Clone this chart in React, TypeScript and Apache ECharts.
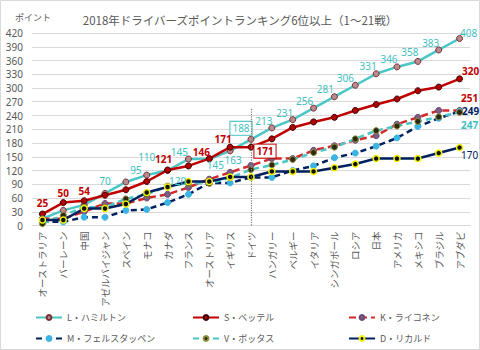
import React, { useEffect, useRef } from "react";
import * as echarts from "echarts";

const races = [
  "オーストラリア", "バーレーン", "中国", "アゼルバイジャン", "スペイン", "モナコ", "カナダ",
  "フランス", "オーストリア", "イギリス", "ドイツ", "ハンガリー", "ベルギー", "イタリア",
  "シンガポール", "ロシア", "日本", "アメリカ", "メキシコ", "ブラジル", "アブダビ",
];

const hamilton = [15, 33, 45, 70, 95, 110, 120, 145, 145, 163, 188, 213, 231, 256, 281, 306, 331, 346, 358, 383, 408];
const vettel = [25, 50, 54, 66, 78, 96, 121, 130, 146, 171, 171, 189, 214, 226, 236, 251, 264, 276, 294, 302, 320];
const raikkonen = [15, 15, 30, 48, 48, 60, 68, 83, 101, 116, 131, 146, 146, 164, 174, 186, 196, 221, 236, 251, 251];
const verstappen = [8, 8, 18, 18, 33, 35, 50, 68, 93, 93, 105, 105, 120, 130, 148, 158, 173, 191, 216, 234, 249];
const bottas = [4, 22, 40, 40, 58, 68, 86, 92, 92, 104, 122, 132, 144, 159, 171, 189, 207, 217, 227, 237, 247];
const ricciardo = [12, 12, 37, 37, 47, 72, 84, 96, 96, 106, 106, 118, 118, 118, 126, 134, 146, 146, 146, 158, 170];

const yTicks = { min: 0, max: 420, interval: 30 };

const names = ["L・ハミルトン", "S・ベッテル", "K・ライコネン", "M・フェルスタッペン", "V・ボッタス", "D・リカルド"];

// label placement (offset of label centre from the point), by index
type LabelCfg = { [i: number]: { o: [number, number]; box?: boolean } };
const hamLabels: LabelCfg = {
  3: { o: [0, -12] }, 4: { o: [10, -12] }, 5: { o: [0, -18] }, 6: { o: [10, 10] },
  7: { o: [-9, -7] }, 8: { o: [6, 6] }, 9: { o: [3, 9] }, 10: { o: [-10, -11], box: true },
  11: { o: [-8, -7] }, 12: { o: [-8, -7] }, 13: { o: [-9, -7] }, 14: { o: [-9, -8] },
  15: { o: [-10, -7] }, 16: { o: [-8, -8] }, 17: { o: [-8, -8] }, 18: { o: [-8, -9] },
  19: { o: [-8, -7] }, 20: { o: [9, -6] },
};
const vetLabels: LabelCfg = {
  0: { o: [0, -11] }, 1: { o: [0, -10] }, 2: { o: [0, -10] }, 6: { o: [-4, -11] },
  8: { o: [-8, -7] }, 9: { o: [-7, -8] }, 10: { o: [14, 4], box: true }, 20: { o: [11, -8] },
};
const raiLabels: LabelCfg = { 20: { o: [10, -12.5] } };
const verLabels: LabelCfg = { 20: { o: [11, 0] } };
const botLabels: LabelCfg = { 20: { o: [10, 12.5] } };
const ricLabels: LabelCfg = { 20: { o: [10, 7] } };

const FONT = "'Noto Sans CJK JP', 'Noto Sans', sans-serif";

function build(values: number[], cfg: LabelCfg, color: string, bold: boolean) {
  return values.map((v, i) => {
    const c = cfg[i];
    if (!c) return v;
    return {
      value: v,
      label: {
        show: true,
        position: "inside",
        offset: c.o,
        align: "center",
        verticalAlign: "middle",
        color,
        fontSize: 10,
        lineHeight: 10,
        fontWeight: bold ? "bold" : "normal",
        fontFamily: "'Noto Sans', sans-serif",
        textBorderWidth: 0,
        ...(c.box
          ? { borderColor: color, borderWidth: 1, padding: [2, 2, 1, 2], backgroundColor: "#ffffff" }
          : {}),
      },
    };
  });
}

export default function App() {
  const ref = useRef<HTMLDivElement>(null);
  useEffect(() => {
    if (!ref.current) return;
    const chart = echarts.init(ref.current, undefined, { renderer: "svg" });
    const cyan = "#4BC6C6";
    const red = "#C00000";
    const navy = "#002060";
    const mkSeries = (
      name: string, data: any[], line: string, type: any,
      fill: string, border: string, bw = 1, extra: any = {}
    ) => ({
      name, type: "line", data, symbol: "circle", symbolSize: 6,
      lineStyle: { color: line, width: 2.5, type },
      itemStyle: { color: fill, borderColor: border, borderWidth: bw },
      emphasis: { disabled: true },
      ...extra,
    });
    const legendPos = [
      [35, 313], [192, 313], [348, 313], [35, 334], [192, 334], [348, 334],
    ];
    chart.setOption({
      animation: false,
      backgroundColor: "#ffffff",
      textStyle: { fontFamily: FONT },
      title: {
        text: "2018年ドライバーズポイントランキング6位以上（1～21戦）",
        left: "center",
        top: 9,
        textStyle: { fontSize: 11.5, fontWeight: "normal", color: "#595959", fontFamily: FONT },
      },
      graphic: [
        {
          type: "rect", silent: true,
          shape: { x: 0.5, y: 0.5, width: 479, height: 349 },
          style: { fill: "none", stroke: "#D9D9D9", lineWidth: 1 },
        },
        {
          type: "text", x: 15, y: 17.5,
          style: { text: "ポイント", fontSize: 9, fill: "#595959", verticalAlign: "middle", fontFamily: FONT },
        },
      ],
      legend: names.map((n, i) => ({
        data: [n],
        left: legendPos[i][0],
        top: legendPos[i][1],
        padding: 0,
        itemWidth: 26,
        itemHeight: 6,
        selectedMode: false,
        textStyle: { fontSize: 9, color: "#595959", fontFamily: FONT },
      })),
      grid: { left: 32, right: 10, top: 33, bottom: 124.5, containLabel: false },
      xAxis: {
        type: "category",
        data: races,
        boundaryGap: true,
        axisLine: { lineStyle: { color: "#D9D9D9" } },
        axisTick: { show: false },
        axisLabel: { rotate: 90, interval: 0, fontSize: 9.5, color: "#595959", margin: 6, fontFamily: FONT },
      },
      yAxis: {
        type: "value",
        min: yTicks.min, max: yTicks.max, interval: yTicks.interval,
        axisLine: { show: false },
        axisTick: { show: false },
        splitLine: { lineStyle: { color: "#D9D9D9" } },
        axisLabel: { fontSize: 10, color: "#595959", margin: 9, fontFamily: "'Noto Sans', sans-serif" },
      },
      series: [
        mkSeries(names[0], build(hamilton, hamLabels, "#3FBFBF", false), cyan, "solid", "#B98A8E", "#7A2E2E", 1, {
          markLine: {
            silent: true, symbol: "none",
            label: { show: false },
            lineStyle: { color: "#7F7F7F", type: "dotted", width: 1.2 },
            data: [[{ coord: [races[10], 0] }, { coord: [races[10], 255] }]],
          },
        }),
        mkSeries(names[1], build(vettel, vetLabels, red, true), red, "solid", "#B00000", "#3A0000"),
        mkSeries(names[2], build(raikkonen, raiLabels, red, true), "#D62828", [7, 4], "#7D5C82", "#6A4A70"),
        mkSeries(names[3], build(verstappen, verLabels, navy, true), navy, [6, 4], "#3BB5E3", "#3BB5E3"),
        mkSeries(names[4], build(bottas, botLabels, "#3FBFBF", true), cyan, [6, 4], "#2E2A10", "#8F8F3A"),
        mkSeries(names[5], build(ricciardo, ricLabels, navy, false), navy, "solid", "#111111", "#F2F200", 1.5),
      ],
    });
    return () => chart.dispose();
  }, []);
  return <div ref={ref} style={{ position: "fixed", left: 0, top: 0, width: 480, height: 350 }} />;
}
